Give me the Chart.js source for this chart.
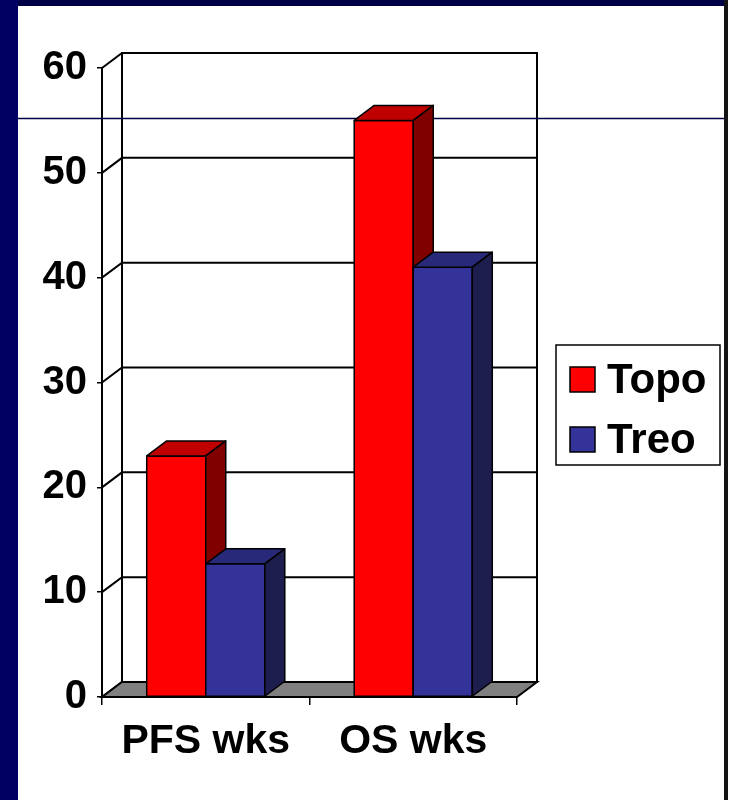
<!DOCTYPE html>
<html>
<head>
<meta charset="utf-8">
<script src="https://cdn.jsdelivr.net/npm/chart.js@4.4.0/dist/chart.umd.min.js"></script>
<style>
  html, body { margin: 0; padding: 0; background: #ffffff; }
  canvas { display: block; }
</style>
</head>
<body>
<canvas id="c" width="731" height="800"></canvas>
<script>
// ---- data ----
const categories = ['PFS wks', 'OS wks'];
const seriesNames = ['Topo', 'Treo'];
const topoValues = [23, 55];
const treoValues = [12.7, 41];
const yTickValues = [0, 10, 20, 30, 40, 50, 60];

// ---- styling ----
const FONT = "'Liberation Sans', Arial, sans-serif";
const DX = 20, DY = 15; // 3D depth offset
const faceColors = [
  { front: '#ff0000', top: '#c00000', side: '#800000' },
  { front: '#333399', top: '#29297a', side: '#1e1e4e' }
];

const threeD = {
  id: 'threeD',
  beforeDraw(chart) {
    const ctx = chart.ctx;
    ctx.save();
    ctx.fillStyle = '#ffffff';
    ctx.fillRect(0, 0, chart.width, chart.height);
    ctx.fillStyle = '#000046';
    ctx.fillRect(0, 0, 724, 6);
    ctx.fillStyle = '#000063';
    ctx.fillRect(0, 0, 18, chart.height);
    ctx.fillStyle = '#141414';
    ctx.fillRect(724, 0, 4, chart.height);
    ctx.restore();
  },
  beforeDatasetsDraw(chart) {
    const ctx = chart.ctx;
    const a = chart.chartArea;
    const ys = chart.scales.y;
    ctx.save();
    ctx.lineWidth = 2;
    ctx.strokeStyle = '#000000';
    ctx.fillStyle = '#ffffff';
    ctx.fillRect(a.left + DX, a.top - DY, a.right - a.left, a.bottom - a.top);
    ctx.strokeRect(a.left + DX, a.top - DY, a.right - a.left, a.bottom - a.top);
    ys.ticks.forEach(t => {
      const py = ys.getPixelForValue(t.value);
      ctx.beginPath();
      ctx.moveTo(a.left, py);
      ctx.lineTo(a.left + DX, py - DY);
      ctx.lineTo(a.right + DX, py - DY);
      ctx.stroke();
    });
    ctx.beginPath();
    ctx.moveTo(a.left, a.bottom);
    ctx.lineTo(a.right, a.bottom);
    ctx.lineTo(a.right + DX, a.bottom - DY);
    ctx.lineTo(a.left + DX, a.bottom - DY);
    ctx.closePath();
    ctx.fillStyle = '#808080';
    ctx.fill();
    ctx.stroke();
    ctx.lineWidth = 1.5;
    ctx.strokeStyle = '#000046';
    ctx.beginPath();
    ctx.moveTo(18, 118.5);
    ctx.lineTo(724, 118.5);
    ctx.stroke();
    ctx.restore();
  },
  beforeDatasetDraw() { return false; },
  afterDatasetsDraw(chart) {
    const ctx = chart.ctx;
    ctx.save();
    ctx.lineWidth = 1.5;
    ctx.strokeStyle = '#000000';
    ctx.lineJoin = 'round';
    chart.data.datasets.forEach((ds, di) => {
      const meta = chart.getDatasetMeta(di);
      const col = faceColors[di];
      meta.data.forEach(bar => {
        const l = bar.x - bar.width / 2, r = bar.x + bar.width / 2;
        const t = bar.y, b = bar.base;
        ctx.fillStyle = col.front;
        ctx.fillRect(l, t, r - l, b - t);
        ctx.strokeRect(l, t, r - l, b - t);
        ctx.beginPath();
        ctx.moveTo(l, t); ctx.lineTo(r, t); ctx.lineTo(r + DX, t - DY); ctx.lineTo(l + DX, t - DY);
        ctx.closePath();
        ctx.fillStyle = col.top; ctx.fill(); ctx.stroke();
        ctx.beginPath();
        ctx.moveTo(r, t); ctx.lineTo(r + DX, t - DY); ctx.lineTo(r + DX, b - DY); ctx.lineTo(r, b);
        ctx.closePath();
        ctx.fillStyle = col.side; ctx.fill(); ctx.stroke();
      });
    });
    ctx.restore();
  },
  afterDraw(chart) {
    const ctx = chart.ctx;
    const a = chart.chartArea;
    ctx.save();
    const bx = a.right + 39, by = 345, bw = 164, bh = 120;
    ctx.fillStyle = '#ffffff';
    ctx.fillRect(bx, by, bw, bh);
    ctx.lineWidth = 1.5;
    ctx.strokeStyle = '#000000';
    ctx.strokeRect(bx, by, bw, bh);
    ctx.font = 'bold 42px ' + FONT;
    ctx.textBaseline = 'alphabetic';
    ctx.textAlign = 'left';
    chart.data.datasets.forEach((ds, i) => {
      const sy = by + 22 + i * 60;
      ctx.fillStyle = ds.backgroundColor;
      ctx.fillRect(bx + 14, sy, 25, 25);
      ctx.strokeRect(bx + 14, sy, 25, 25);
      ctx.fillStyle = '#000000';
      ctx.fillText(ds.label, bx + 51, sy + 26);
    });
    ctx.restore();
  }
};

new Chart(document.getElementById('c'), {
  type: 'bar',
  data: {
    labels: categories,
    datasets: [
      { label: seriesNames[0], data: topoValues, backgroundColor: faceColors[0].front },
      { label: seriesNames[1], data: treoValues, backgroundColor: faceColors[1].front }
    ]
  },
  options: {
    responsive: false,
    animation: false,
    devicePixelRatio: 1,
    layout: { padding: { left: 0, right: 214, top: 68, bottom: 0 } },
    datasets: { bar: { barPercentage: 1, categoryPercentage: 0.569 } },
    plugins: { legend: { display: false }, tooltip: { enabled: false } },
    scales: {
      x: {
        grid: { display: true, drawOnChartArea: false, drawTicks: true, tickLength: 8, offset: true, color: '#000', lineWidth: 1.5 },
        border: { display: true, color: '#000', width: 2 },
        ticks: { color: '#000', padding: 12, font: { family: FONT, size: 41, weight: 'bold' }, maxRotation: 0 },
        afterFit(s) { s.height = 103; }
      },
      y: {
        min: yTickValues[0],
        max: yTickValues[yTickValues.length - 1],
        grid: { display: true, drawOnChartArea: false, drawTicks: true, tickLength: 5, color: '#000', lineWidth: 1.5 },
        border: { display: true, color: '#000', width: 2 },
        ticks: { stepSize: yTickValues[1] - yTickValues[0], color: '#000', padding: 10, font: { family: FONT, size: 40, weight: 'bold' } },
        afterFit(s) { s.width = 102; }
      }
    }
  },
  plugins: [threeD]
});
</script>
</body>
</html>
